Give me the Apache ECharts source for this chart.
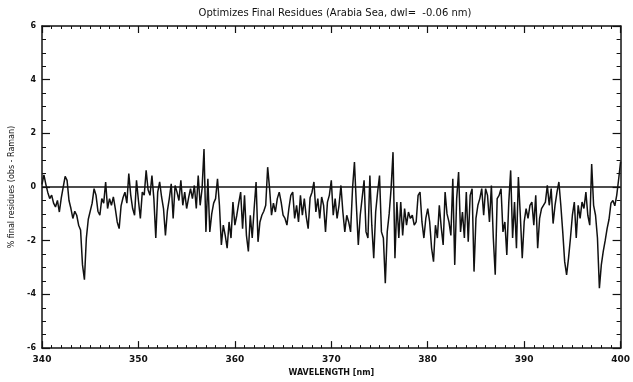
<!DOCTYPE html>
<html>
<head>
<meta charset="utf-8">
<script src="https://cdn.jsdelivr.net/npm/echarts@6/dist/echarts.min.js"></script>
<style>
  html, body { margin: 0; padding: 0; background: #fff; }
  #main { width: 633px; height: 382px; }
</style>
</head>
<body>
<div id="main"></div>
<script>
// sampling of the spectrum (nm)
var sampleStart = 340;
var sampleStep = 0.2;

// % final residues, one row per nm
var residues = [
  0.1, 0.45, 0.1, -0.2, -0.43,      // 340
  -0.3, -0.6, -0.74, -0.5, -0.93,   // 341
  -0.4, 0.0, 0.4, 0.25, -0.5,
  -0.8, -1.17, -0.9, -1.05, -1.42,
  -1.6, -2.9, -3.45, -1.9, -1.2,
  -1.17, -0.6, -0.06, -0.3, -0.9,   // 345
  -1.05, -0.43, -0.6, 0.19, -0.8,
  -0.43, -0.68, -0.37, -0.8, -1.3,
  -1.55, -0.7, -0.4, -0.19, -0.6,
  0.5, -0.3, -0.8, -1.05, 0.25,
  -0.5, -1.17, -0.19, -0.3, 0.62,   // 350
  -0.1, -0.31, 0.43, -0.43, -1.9,
  -0.19, 0.19, -0.37, -0.8, -1.8,
  -0.9, -0.43, 0.12, -1.17, 0.06,
  -0.19, -0.5, 0.25, -0.68, -0.19,
  -0.8, -0.4, -0.06, -0.43, 0.06,   // 355
  -0.8, 0.43, -0.68, -0.06, 1.42,
  -1.67, 0.31, -1.67, -1.0, -0.6,
  -0.43, 0.31, -0.68, -2.16, -1.42,
  -1.8, -2.28, -1.3, -1.9, -0.56,
  -1.42, -1.05, -0.6, -0.19, -1.55, // 360
  -0.31, -1.8, -2.4, -1.05, -1.9,
  -0.8, 0.19, -2.04, -1.3, -1.05,
  -0.9, -0.68, 0.74, -0.06, -1.05,
  -0.6, -0.93, -0.43, -0.19, -0.56,
  -1.05, -1.17, -1.42, -0.8, -0.31, // 365
  -0.19, -1.17, -0.68, -1.3, -0.31,
  -1.05, -0.43, -1.1, -1.55, -0.4,
  -0.19, 0.19, -0.93, -0.43, -1.17,
  -0.37, -0.68, -1.67, -0.56, -0.3,
  0.25, -1.05, -0.43, -1.17, -0.68, // 370
  0.06, -0.93, -1.67, -1.05, -1.3,
  -1.67, -0.06, 0.93, -0.68, -2.16,
  -1.05, -0.4, 0.25, -1.67, -1.9,
  0.43, -1.42, -2.65, -0.93, -0.2,
  0.43, -1.67, -1.9, -3.58, -1.67,  // 375
  -1.0, -0.06, 1.3, -2.65, -0.56,
  -1.9, -0.56, -1.8, -0.8, -1.42,
  -0.93, -1.17, -1.05, -1.42, -1.3,
  -0.31, -0.19, -1.3, -1.9, -1.17,
  -0.8, -1.3, -2.28, -2.78, -1.42,  // 380
  -1.9, -0.68, -1.5, -2.16, -0.19,
  -1.0, -1.3, -1.8, 0.31, -2.9,
  -0.43, 0.56, -1.67, -0.93, -1.9,
  -0.19, -2.04, -0.31, -0.06, -3.15,
  -1.17, -0.68, -0.43, -0.06, -1.05, // 385
  -0.06, -0.31, -1.3, 0.06, -1.9,
  -3.27, -0.43, -0.31, -0.06, -1.67,
  -1.3, -2.53, -0.6, 0.62, -1.9,
  -0.56, -2.28, 0.37, -1.05, -2.65,
  -1.3, -0.8, -1.17, -0.68, -0.56,  // 390
  -1.42, -0.31, -2.28, -1.17, -0.8,
  -0.68, -0.56, 0.06, -0.68, -0.06,
  -1.36, -0.68, -0.2, 0.19, -0.68,
  -1.67, -2.78, -3.27, -2.65, -1.9,
  -1.05, -0.56, -1.9, -0.68, -1.17, // 395
  -0.56, -0.8, -0.19, -1.05, -1.42,
  0.86, -0.68, -1.05, -1.9, -3.77,
  -2.9, -2.4, -2.0, -1.55, -1.2,
  -0.6, -0.5, -0.7, -0.3, 0.3,
  0.95                               // 400
];

var xTicks = [340, 350, 360, 370, 380, 390, 400];
var yTicks = [-6, -4, -2, 0, 2, 4, 6];

var points = residues.map(function (v, i) {
  return [+(sampleStart + i * sampleStep).toFixed(1), v];
});

var font = 'DejaVu Sans';
var ink = '#111';

function xAx(pos, show) {
  return {
    type: 'value', position: pos,
    min: xTicks[0], max: xTicks[xTicks.length - 1], interval: 10,
    axisLine: { show: true, onZero: false, lineStyle: { color: ink, width: 1.5 } },
    axisTick: { show: true, inside: true, length: 7, lineStyle: { color: ink, width: 1.2 } },
    minorTick: { show: true, splitNumber: 10, length: 3, lineStyle: { color: ink, width: 1 } },
    axisLabel: { show: show, color: ink, fontFamily: font, fontSize: 9, fontWeight: 'bold', margin: 7 },
    splitLine: { show: false }
  };
}

function yAx(pos, show) {
  return {
    type: 'value', position: pos,
    min: yTicks[0], max: yTicks[yTicks.length - 1], interval: 2,
    axisLine: { show: true, onZero: false, lineStyle: { color: ink, width: 1.5 } },
    axisTick: { show: true, inside: true, length: 8, lineStyle: { color: ink, width: 1.2 } },
    minorTick: { show: true, splitNumber: 4, length: 4, lineStyle: { color: ink, width: 1 } },
    axisLabel: { show: show, color: ink, fontFamily: font, fontSize: 8, fontWeight: 'bold', margin: 6 },
    splitLine: { show: false }
  };
}

var xBottom = xAx('bottom', true);
xBottom.name = 'WAVELENGTH [nm]';
xBottom.nameLocation = 'middle';
xBottom.nameGap = 20;
xBottom.nameTextStyle = { color: ink, fontFamily: font, fontSize: 8, fontWeight: 'bold' };

var yLeft = yAx('left', true);
yLeft.name = '% final residues (obs - Raman)';
yLeft.nameLocation = 'middle';
yLeft.nameGap = 22;
yLeft.nameTextStyle = { color: ink, fontFamily: font, fontSize: 8 };

var chart = echarts.init(document.getElementById('main'));
var option = {
  backgroundColor: '#fff',
  animation: false,
  title: {
    text: 'Optimizes Final Residues (Arabia Sea, dwl=  -0.06 nm)',
    left: 330, top: 3, textAlign: 'center',
    textStyle: { color: ink, fontFamily: font, fontSize: 10, fontWeight: 'normal' }
  },
  grid: { left: 42, right: 12, top: 26, bottom: 31 },
  xAxis: [xBottom, xAx('top', false)],
  yAxis: [yLeft, yAx('right', false)],
  series: [{
    type: 'line',
    data: points,
    showSymbol: false,
    lineStyle: { color: ink, width: 1.5 },
    markLine: {
      silent: true,
      symbol: 'none',
      label: { show: false },
      lineStyle: { color: ink, width: 1.5, type: 'solid' },
      data: [{ yAxis: 0 }]
    }
  }]
};
chart.setOption(option);
</script>
</body>
</html>
